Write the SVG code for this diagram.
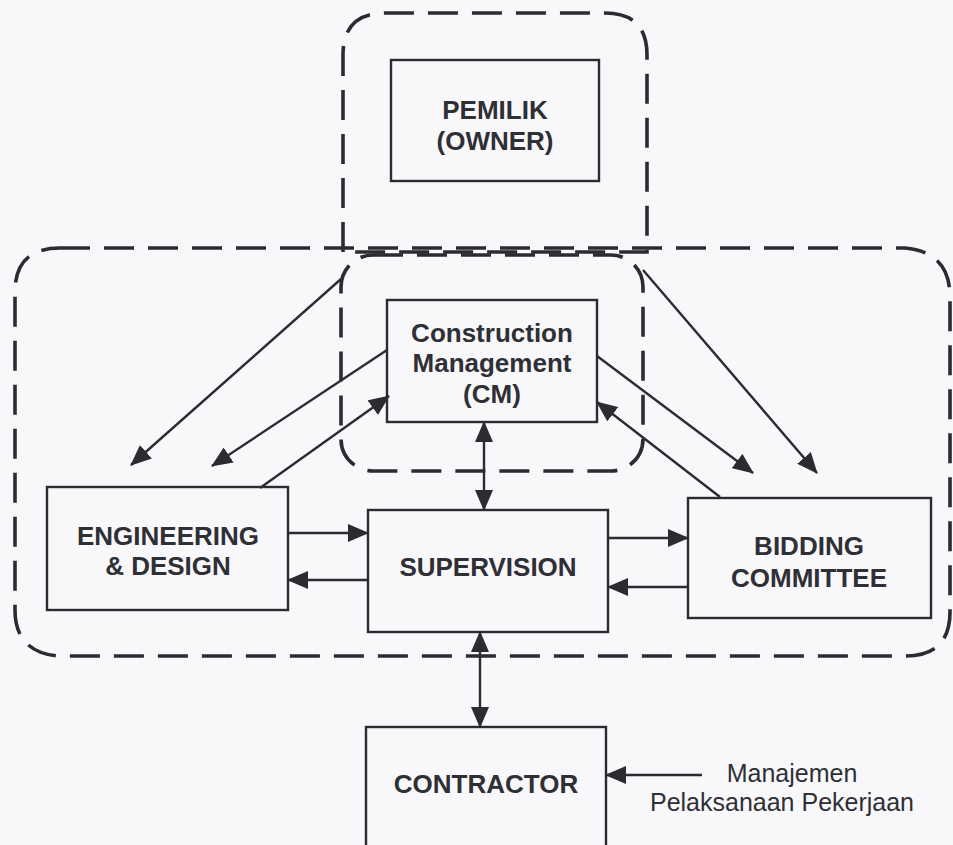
<svg xmlns="http://www.w3.org/2000/svg" width="953" height="845" viewBox="0 0 953 845">
<defs>
<marker id="ah" markerUnits="userSpaceOnUse" markerWidth="21" markerHeight="18" refX="20" refY="9" orient="auto-start-reverse">
<path d="M0,0 L21,9 L0,18 z" fill="#2b2b30"/>
</marker>
</defs>
<style>
.bg{fill:#f8f8fa}
.box{fill:none;stroke:#2b2b30;stroke-width:2.4}
.reg{fill:none;stroke:#2b2b30;stroke-width:3.6;stroke-dasharray:30 14}
.t{font-family:"Liberation Sans",Arial,sans-serif;font-weight:bold;font-size:26px;fill:#2f2f36;text-anchor:middle}
.n{font-family:"Liberation Sans",Arial,sans-serif;font-size:25px;fill:#2f2f36;text-anchor:middle}
.c{fill:none;stroke:#2b2b30;stroke-width:2.4;marker-end:url(#ah)}
.d{marker-start:url(#ah)}
</style>
<rect class="bg" x="0" y="0" width="953" height="845"/>
<g id="regions">
<path class="reg" d="M343,252 V55 Q343,13 385,13 H605 Q647,13 647,55 V252 Z"/>
<path class="reg" d="M60,248 H905 Q950,252 950,297 V612 Q950,656 905,656 H58 Q15,652 15,610 V292 Q15,248 60,248 Z"/>
<rect class="reg" x="341" y="255" width="302" height="216" rx="32"/>
</g>
<g id="owner">
<rect class="box" x="391" y="60" width="208" height="121"/>
<text class="t" x="495" y="119">PEMILIK</text>
<text class="t" x="495" y="150">(OWNER)</text>
</g>
<g id="cm">
<rect class="box" x="387" y="300" width="210" height="122"/>
<text class="t" x="492" y="342">Construction</text>
<text class="t" x="492" y="372">Management</text>
<text class="t" x="492" y="403">(CM)</text>
</g>
<g id="engineering">
<rect class="box" x="47" y="487" width="241" height="123"/>
<text class="t" x="168" y="545">ENGINEERING</text>
<text class="t" x="168" y="575">&amp; DESIGN</text>
</g>
<g id="supervision">
<rect class="box" x="368" y="510" width="240" height="122"/>
<text class="t" x="488" y="576">SUPERVISION</text>
</g>
<g id="bidding">
<rect class="box" x="688" y="498" width="243" height="120"/>
<text class="t" x="809" y="555">BIDDING</text>
<text class="t" x="809" y="587">COMMITTEE</text>
</g>
<g id="contractor">
<rect class="box" x="366" y="727" width="240" height="130"/>
<text class="t" x="486" y="793">CONTRACTOR</text>
</g>
<g id="label">
<text class="n" x="792" y="782">Manajemen</text>
<text class="n" x="782" y="811">Pelaksanaan Pekerjaan</text>
</g>
<g id="connectors">
<line class="c" x1="341" y1="279" x2="131" y2="465"/>
<line class="c" x1="387" y1="350" x2="212" y2="466"/>
<line class="c" x1="260" y1="488" x2="389" y2="396"/>
<line class="c" x1="643" y1="270" x2="817" y2="473"/>
<line class="c" x1="597" y1="356" x2="753" y2="473"/>
<line class="c" x1="720" y1="497" x2="597" y2="402"/>
<line class="c d" x1="484" y1="422" x2="484" y2="510"/>
<line class="c" x1="288" y1="533" x2="368" y2="533"/>
<line class="c" x1="368" y1="580" x2="288" y2="580"/>
<line class="c" x1="608" y1="538" x2="688" y2="538"/>
<line class="c" x1="688" y1="587" x2="608" y2="587"/>
<line class="c d" x1="480" y1="632" x2="480" y2="727"/>
<line class="c" x1="702" y1="775" x2="606" y2="775"/>
</g>
</svg>
